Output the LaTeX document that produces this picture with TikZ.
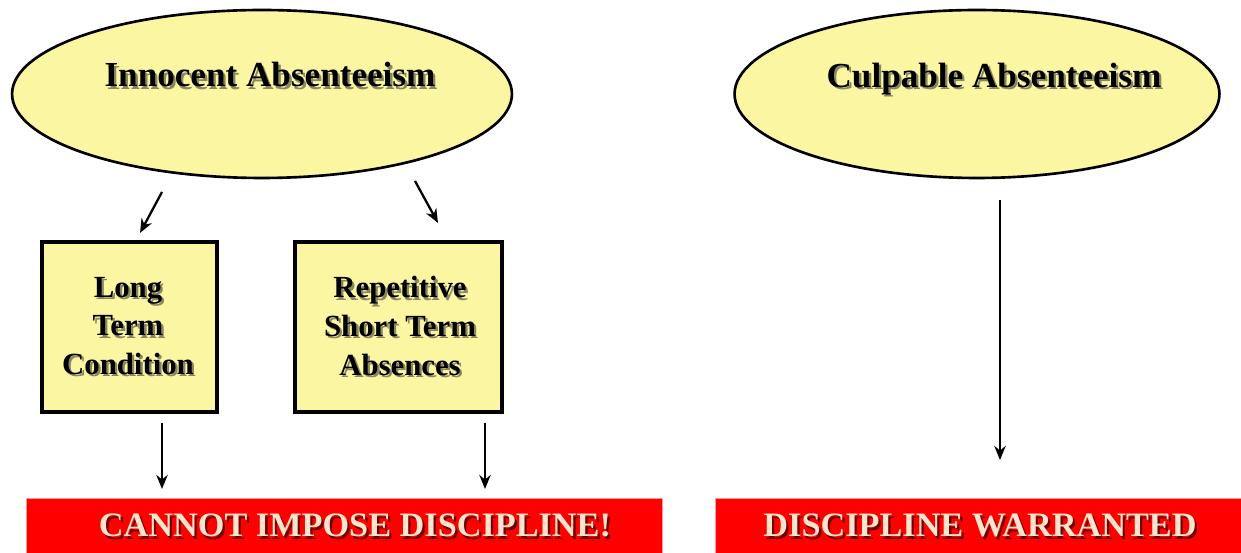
\documentclass[tikz,border=0pt]{standalone}
\usepackage{fontspec}
\setmainfont{Liberation Serif}
\usetikzlibrary{arrows.meta,shapes.geometric}
\definecolor{paleyel}{HTML}{FAF6A2}
\definecolor{barred}{HTML}{FF0000}
\definecolor{cream}{HTML}{FBE3CC}
\definecolor{darkshadow}{HTML}{6E0000}
\definecolor{txtshadow}{HTML}{8A8660}
\newcommand{\shtext}[2]{\leavevmode\rlap{\kern1.3pt\raisebox{-1.3pt}{\textcolor{#1}{#2}}}#2}
\tikzset{
  x=0.02cm, y=-0.02cm,
  ell/.style={draw=black, line width=1.5pt, fill=paleyel, ellipse, inner sep=0pt},
  sqbox/.style={draw=black, line width=1.8pt, fill=paleyel, inner sep=0pt},
  etitle/.style={font=\bfseries\fontsize{20}{24}\selectfont, text=black},
  btext/.style={font=\bfseries\fontsize{17.5}{22}\selectfont, align=center, text=black},
  bar/.style={fill=barred, draw=red!40, line width=0.6pt, inner sep=0pt},
  bartext/.style={font=\bfseries\fontsize{19.5}{23}\selectfont, text=cream},
  arr/.style={line width=1.3pt, -{Stealth[length=8pt,width=6.5pt]}},
}
\begin{document}
\begin{tikzpicture}
\useasboundingbox (0,0) rectangle (1241,553);
% ellipses
\node[ell, minimum width=10cm, minimum height=3.36cm] (inn) at (262,94) {};
\node[etitle] (innT) at (270,76) {\shtext{txtshadow}{Innocent Absenteeism}};
\node[ell, minimum width=9.7cm, minimum height=3.36cm] (cul) at (977,94) {};
\node[etitle] (culT) at (994,80) {\shtext{txtshadow}{Culpable Absenteeism}};
% boxes
\node[sqbox, minimum width=3.5cm, minimum height=3.4cm] (ltc) at (129.5,327) {};
\node[btext] (ltcT) at (128,327) {\shtext{txtshadow}{Long}\\\shtext{txtshadow}{Term}\\\shtext{txtshadow}{Condition}};
\node[sqbox, minimum width=4.14cm, minimum height=3.4cm] (rst) at (398.5,327) {};
\node[btext] (rstT) at (400,327) {\shtext{txtshadow}{Repetitive}\\\shtext{txtshadow}{Short Term}\\\shtext{txtshadow}{Absences}};
% red bars
\node[bar, minimum width=12.72cm, minimum height=1.3cm, anchor=north west] (cannot) at (26,498) {};
\node[bartext] (cannotT) at (355,527) {\shtext{darkshadow}{CANNOT IMPOSE DISCIPLINE!}};
\node[bar, minimum width=10.6cm, minimum height=1.3cm, anchor=north west] (warr) at (715,498) {};
\node[bartext] (warrT) at (980,527) {\shtext{darkshadow}{DISCIPLINE WARRANTED}};
% connector end points
\coordinate (a1s) at (162,192);
\coordinate (a1e) at (140,233);
\coordinate (a2s) at (415,181);
\coordinate (a2e) at (438,223);
\coordinate (a3s) at (162,423);
\coordinate (a3e) at (162,489);
\coordinate (a4s) at (485,423);
\coordinate (a4e) at (485,489);
\coordinate (a5s) at (1000,200);
\coordinate (a5e) at (1000,460);
\draw[arr] (a1s) -- (a1e);
\draw[arr] (a2s) -- (a2e);
\draw[arr] (a3s) -- (a3e);
\draw[arr] (a4s) -- (a4e);
\draw[arr] (a5s) -- (a5e);
\end{tikzpicture}
\end{document}
